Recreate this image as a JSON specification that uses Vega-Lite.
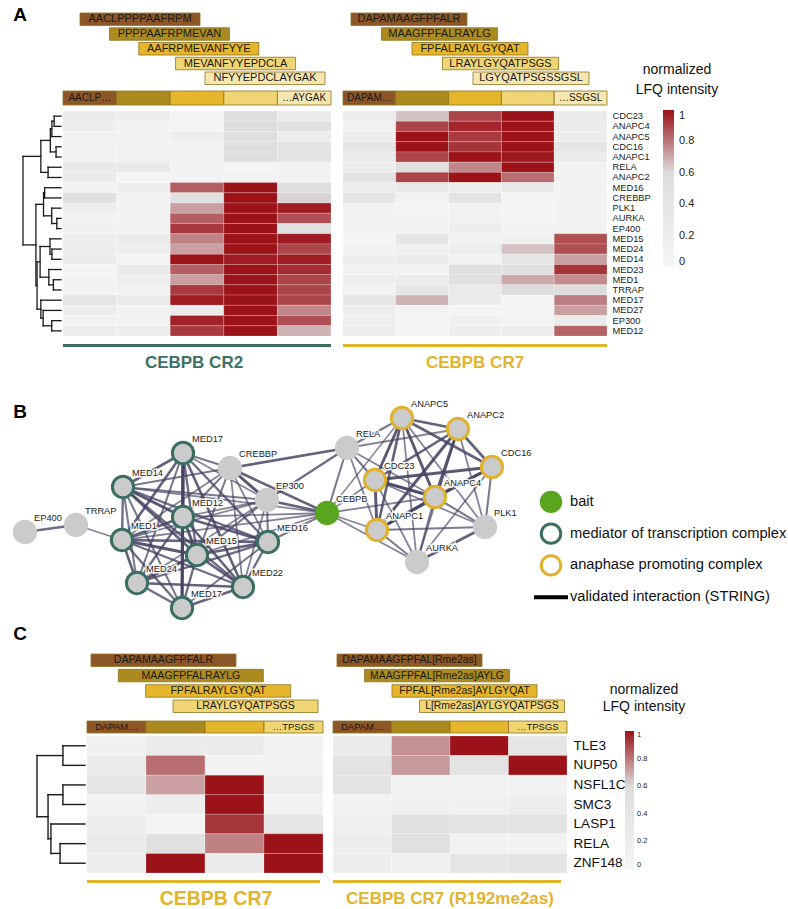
{
"$schema": "https://vega.github.io/schema/vega-lite/v6.json",
"background": "white",
"padding": 0,
"config": {"font": "Liberation Sans", "view": {"stroke": null}},
"datasets": {
"nodes": [
{"id":"EP400","label":"EP400","x":25,"y":157,"grp":"other"},
{"id":"TRRAP","label":"TRRAP","x":76,"y":150,"grp":"other"},
{"id":"MED14","label":"MED14","x":123,"y":112,"grp":"med"},
{"id":"MED17a","label":"MED17","x":183,"y":78,"grp":"med"},
{"id":"CREBBP","label":"CREBBP","x":230,"y":93,"grp":"other"},
{"id":"EP300","label":"EP300","x":267,"y":125,"grp":"other"},
{"id":"MED12","label":"MED12","x":183,"y":142,"grp":"med"},
{"id":"MED1","label":"MED1","x":122,"y":165,"grp":"med"},
{"id":"MED15","label":"MED15","x":197,"y":180,"grp":"med"},
{"id":"MED16","label":"MED16","x":268,"y":167,"grp":"med"},
{"id":"MED24","label":"MED24","x":137,"y":208,"grp":"med"},
{"id":"MED22","label":"MED22","x":243,"y":212,"grp":"med"},
{"id":"MED17b","label":"MED17","x":182,"y":233,"grp":"med"},
{"id":"CEBPB","label":"CEBPB","x":327,"y":138,"grp":"bait"},
{"id":"RELA","label":"RELA","x":347,"y":73,"grp":"other"},
{"id":"CDC23","label":"CDC23","x":375,"y":105,"grp":"apc"},
{"id":"ANAPC1","label":"ANAPC1","x":377,"y":155,"grp":"apc"},
{"id":"ANAPC5","label":"ANAPC5","x":402,"y":43,"grp":"apc"},
{"id":"ANAPC2","label":"ANAPC2","x":458,"y":54,"grp":"apc"},
{"id":"CDC16","label":"CDC16","x":492,"y":92,"grp":"apc"},
{"id":"ANAPC4","label":"ANAPC4","x":435,"y":122,"grp":"apc"},
{"id":"PLK1","label":"PLK1","x":485,"y":152,"grp":"other"},
{"id":"AURKA","label":"AURKA","x":417,"y":187,"grp":"other"}
],
"edges": [
{"s":"EP400","t":"TRRAP","w":0.7},{"s":"TRRAP","t":"MED1","w":0.5},
{"s":"MED14","t":"MED17a","w":0.8},{"s":"MED14","t":"MED12","w":0.9},{"s":"MED14","t":"MED1","w":0.7},{"s":"MED14","t":"MED15","w":0.8},{"s":"MED14","t":"MED16","w":0.7},{"s":"MED14","t":"MED24","w":0.6},{"s":"MED14","t":"MED22","w":0.7},{"s":"MED14","t":"MED17b","w":0.6},
{"s":"MED17a","t":"MED12","w":0.9},{"s":"MED17a","t":"MED1","w":0.8},{"s":"MED17a","t":"MED15","w":0.7},{"s":"MED17a","t":"MED16","w":0.7},{"s":"MED17a","t":"MED24","w":0.6},{"s":"MED17a","t":"MED22","w":0.8},{"s":"MED17a","t":"MED17b","w":1.0},
{"s":"MED12","t":"MED1","w":0.8},{"s":"MED12","t":"MED15","w":0.9},{"s":"MED12","t":"MED16","w":0.8},{"s":"MED12","t":"MED24","w":0.7},{"s":"MED12","t":"MED22","w":0.8},{"s":"MED12","t":"MED17b","w":0.7},
{"s":"MED1","t":"MED15","w":0.9},{"s":"MED1","t":"MED16","w":0.8},{"s":"MED1","t":"MED24","w":0.8},{"s":"MED1","t":"MED22","w":0.7},{"s":"MED1","t":"MED17b","w":0.7},
{"s":"MED15","t":"MED16","w":0.8},{"s":"MED15","t":"MED24","w":0.9},{"s":"MED15","t":"MED22","w":0.8},{"s":"MED15","t":"MED17b","w":0.7},
{"s":"MED16","t":"MED24","w":0.7},{"s":"MED16","t":"MED22","w":0.7},{"s":"MED16","t":"MED17b","w":0.6},
{"s":"MED24","t":"MED22","w":0.8},{"s":"MED24","t":"MED17b","w":0.7},{"s":"MED22","t":"MED17b","w":0.8},
{"s":"CREBBP","t":"MED17a","w":0.6},{"s":"CREBBP","t":"MED14","w":0.6},{"s":"CREBBP","t":"MED12","w":0.6},{"s":"CREBBP","t":"MED1","w":0.5},{"s":"CREBBP","t":"MED15","w":0.6},{"s":"CREBBP","t":"MED16","w":0.5},{"s":"CREBBP","t":"MED22","w":0.5},{"s":"CREBBP","t":"EP300","w":0.9},{"s":"CREBBP","t":"CEBPB","w":0.8},{"s":"CREBBP","t":"RELA","w":0.8},
{"s":"EP300","t":"MED14","w":0.6},{"s":"EP300","t":"MED1","w":0.5},{"s":"EP300","t":"MED15","w":0.6},{"s":"EP300","t":"MED24","w":0.5},{"s":"EP300","t":"MED16","w":0.6},{"s":"EP300","t":"MED22","w":0.5},{"s":"EP300","t":"CEBPB","w":0.8},{"s":"EP300","t":"RELA","w":0.7},{"s":"EP300","t":"MED17a","w":0.5},{"s":"EP300","t":"MED12","w":0.5},
{"s":"CEBPB","t":"MED14","w":0.5},{"s":"CEBPB","t":"MED12","w":0.5},{"s":"CEBPB","t":"MED1","w":0.5},{"s":"CEBPB","t":"MED15","w":0.5},{"s":"CEBPB","t":"MED16","w":0.6},{"s":"CEBPB","t":"RELA","w":0.6},{"s":"CEBPB","t":"CDC23","w":0.5},{"s":"CEBPB","t":"ANAPC1","w":0.5},{"s":"CEBPB","t":"ANAPC4","w":0.5},{"s":"CEBPB","t":"AURKA","w":0.5},{"s":"CEBPB","t":"ANAPC5","w":0.45},
{"s":"RELA","t":"CDC23","w":0.6},{"s":"RELA","t":"ANAPC5","w":0.6},{"s":"RELA","t":"ANAPC4","w":0.5},{"s":"RELA","t":"ANAPC2","w":0.5},{"s":"RELA","t":"ANAPC1","w":0.5},
{"s":"CDC23","t":"ANAPC1","w":0.9},{"s":"CDC23","t":"ANAPC5","w":0.9},{"s":"CDC23","t":"ANAPC2","w":0.8},{"s":"CDC23","t":"CDC16","w":0.9},{"s":"CDC23","t":"ANAPC4","w":1.0},
{"s":"ANAPC1","t":"ANAPC5","w":0.8},{"s":"ANAPC1","t":"ANAPC2","w":0.9},{"s":"ANAPC1","t":"CDC16","w":0.8},{"s":"ANAPC1","t":"ANAPC4","w":0.9},
{"s":"ANAPC5","t":"ANAPC2","w":0.8},{"s":"ANAPC5","t":"CDC16","w":0.8},{"s":"ANAPC5","t":"ANAPC4","w":0.9},
{"s":"ANAPC2","t":"CDC16","w":0.8},{"s":"ANAPC2","t":"ANAPC4","w":0.9},{"s":"CDC16","t":"ANAPC4","w":0.9},
{"s":"PLK1","t":"CDC16","w":0.6},{"s":"PLK1","t":"ANAPC4","w":0.6},{"s":"PLK1","t":"ANAPC1","w":0.6},{"s":"PLK1","t":"CDC23","w":0.5},{"s":"PLK1","t":"AURKA","w":0.8},{"s":"PLK1","t":"ANAPC5","w":0.5},{"s":"PLK1","t":"ANAPC2","w":0.5},
{"s":"AURKA","t":"ANAPC1","w":0.6},{"s":"AURKA","t":"ANAPC4","w":0.6},{"s":"AURKA","t":"CDC23","w":0.5},{"s":"AURKA","t":"CDC16","w":0.5},{"s":"AURKA","t":"ANAPC2","w":0.5},{"s":"AURKA","t":"ANAPC5","w":0.5}
],
"cr2": [
{"g":"CDC23","p":1,"v":0.25},{"g":"CDC23","p":2,"v":0.2},{"g":"CDC23","p":3,"v":0.05},{"g":"CDC23","p":4,"v":0.55},{"g":"CDC23","p":5,"v":0.25},
{"g":"ANAPC4","p":1,"v":0.2},{"g":"ANAPC4","p":2,"v":0.1},{"g":"ANAPC4","p":3,"v":0.05},{"g":"ANAPC4","p":4,"v":0.55},{"g":"ANAPC4","p":5,"v":0.5},
{"g":"ANAPC5","p":1,"v":0.1},{"g":"ANAPC5","p":2,"v":0.1},{"g":"ANAPC5","p":3,"v":0.2},{"g":"ANAPC5","p":4,"v":0.55},{"g":"ANAPC5","p":5,"v":0.2},
{"g":"CDC16","p":1,"v":0.1},{"g":"CDC16","p":2,"v":0.1},{"g":"CDC16","p":3,"v":0.1},{"g":"CDC16","p":4,"v":0.55},{"g":"CDC16","p":5,"v":0.45},
{"g":"ANAPC1","p":1,"v":0.1},{"g":"ANAPC1","p":2,"v":0.15},{"g":"ANAPC1","p":3,"v":0.1},{"g":"ANAPC1","p":4,"v":0.55},{"g":"ANAPC1","p":5,"v":0.45},
{"g":"RELA","p":1,"v":0.3},{"g":"RELA","p":2,"v":0.3},{"g":"RELA","p":3,"v":0.1},{"g":"RELA","p":4,"v":0.05},{"g":"RELA","p":5,"v":0.1},
{"g":"ANAPC2","p":1,"v":0.25},{"g":"ANAPC2","p":2,"v":0.05},{"g":"ANAPC2","p":3,"v":0.1},{"g":"ANAPC2","p":4,"v":0.1},{"g":"ANAPC2","p":5,"v":0.1},
{"g":"MED16","p":1,"v":0.1},{"g":"MED16","p":2,"v":0.2},{"g":"MED16","p":3,"v":0.85},{"g":"MED16","p":4,"v":1},{"g":"MED16","p":5,"v":0.55},
{"g":"CREBBP","p":1,"v":0.5},{"g":"CREBBP","p":2,"v":0.1},{"g":"CREBBP","p":3,"v":0.5},{"g":"CREBBP","p":4,"v":1},{"g":"CREBBP","p":5,"v":0.62},
{"g":"PLK1","p":1,"v":0.2},{"g":"PLK1","p":2,"v":0.1},{"g":"PLK1","p":3,"v":0.72},{"g":"PLK1","p":4,"v":1},{"g":"PLK1","p":5,"v":0.98},
{"g":"AURKA","p":1,"v":0.1},{"g":"AURKA","p":2,"v":0.1},{"g":"AURKA","p":3,"v":0.85},{"g":"AURKA","p":4,"v":1},{"g":"AURKA","p":5,"v":0.88},
{"g":"EP400","p":1,"v":0.15},{"g":"EP400","p":2,"v":0.1},{"g":"EP400","p":3,"v":0.92},{"g":"EP400","p":4,"v":1},{"g":"EP400","p":5,"v":0.5},
{"g":"MED15","p":1,"v":0.2},{"g":"MED15","p":2,"v":0.25},{"g":"MED15","p":3,"v":0.78},{"g":"MED15","p":4,"v":1},{"g":"MED15","p":5,"v":0.98},
{"g":"MED24","p":1,"v":0.2},{"g":"MED24","p":2,"v":0.2},{"g":"MED24","p":3,"v":0.72},{"g":"MED24","p":4,"v":1},{"g":"MED24","p":5,"v":0.9},
{"g":"MED14","p":1,"v":0.25},{"g":"MED14","p":2,"v":0.05},{"g":"MED14","p":3,"v":1},{"g":"MED14","p":4,"v":0.98},{"g":"MED14","p":5,"v":0.98},
{"g":"MED23","p":1,"v":0.05},{"g":"MED23","p":2,"v":0.3},{"g":"MED23","p":3,"v":0.85},{"g":"MED23","p":4,"v":1},{"g":"MED23","p":5,"v":0.95},
{"g":"MED1","p":1,"v":0.1},{"g":"MED1","p":2,"v":0.2},{"g":"MED1","p":3,"v":0.72},{"g":"MED1","p":4,"v":1},{"g":"MED1","p":5,"v":0.9},
{"g":"TRRAP","p":1,"v":0.1},{"g":"TRRAP","p":2,"v":0.1},{"g":"TRRAP","p":3,"v":0.92},{"g":"TRRAP","p":4,"v":1},{"g":"TRRAP","p":5,"v":0.9},
{"g":"MED17","p":1,"v":0.4},{"g":"MED17","p":2,"v":0.25},{"g":"MED17","p":3,"v":0.98},{"g":"MED17","p":4,"v":1},{"g":"MED17","p":5,"v":0.9},
{"g":"MED27","p":1,"v":0.2},{"g":"MED27","p":2,"v":0.1},{"g":"MED27","p":3,"v":0.25},{"g":"MED27","p":4,"v":1},{"g":"MED27","p":5,"v":0.77},
{"g":"EP300","p":1,"v":0.1},{"g":"EP300","p":2,"v":0.1},{"g":"EP300","p":3,"v":0.97},{"g":"EP300","p":4,"v":1},{"g":"EP300","p":5,"v":0.88},
{"g":"MED12","p":1,"v":0.2},{"g":"MED12","p":2,"v":0.2},{"g":"MED12","p":3,"v":0.92},{"g":"MED12","p":4,"v":1},{"g":"MED12","p":5,"v":0.68}
],
"cr7a": [
{"g":"CDC23","p":1,"v":0.2},{"g":"CDC23","p":2,"v":0.65},{"g":"CDC23","p":3,"v":0.9},{"g":"CDC23","p":4,"v":1},{"g":"CDC23","p":5,"v":0.25},
{"g":"ANAPC4","p":1,"v":0.1},{"g":"ANAPC4","p":2,"v":0.9},{"g":"ANAPC4","p":3,"v":0.96},{"g":"ANAPC4","p":4,"v":1},{"g":"ANAPC4","p":5,"v":0.25},
{"g":"ANAPC5","p":1,"v":0.2},{"g":"ANAPC5","p":2,"v":1},{"g":"ANAPC5","p":3,"v":0.92},{"g":"ANAPC5","p":4,"v":1},{"g":"ANAPC5","p":5,"v":0.2},
{"g":"CDC16","p":1,"v":0.4},{"g":"CDC16","p":2,"v":1},{"g":"CDC16","p":3,"v":0.93},{"g":"CDC16","p":4,"v":1},{"g":"CDC16","p":5,"v":0.4},
{"g":"ANAPC1","p":1,"v":0.25},{"g":"ANAPC1","p":2,"v":0.9},{"g":"ANAPC1","p":3,"v":1},{"g":"ANAPC1","p":4,"v":0.99},{"g":"ANAPC1","p":5,"v":0.25},
{"g":"RELA","p":1,"v":0.2},{"g":"RELA","p":2,"v":0.5},{"g":"RELA","p":3,"v":0.77},{"g":"RELA","p":4,"v":1},{"g":"RELA","p":5,"v":0.1},
{"g":"ANAPC2","p":1,"v":0.45},{"g":"ANAPC2","p":2,"v":0.9},{"g":"ANAPC2","p":3,"v":1},{"g":"ANAPC2","p":4,"v":0.82},{"g":"ANAPC2","p":5,"v":0.1},
{"g":"MED16","p":1,"v":0.2},{"g":"MED16","p":2,"v":0.3},{"g":"MED16","p":3,"v":0.2},{"g":"MED16","p":4,"v":0.3},{"g":"MED16","p":5,"v":0.1},
{"g":"CREBBP","p":1,"v":0.4},{"g":"CREBBP","p":2,"v":0.1},{"g":"CREBBP","p":3,"v":0.45},{"g":"CREBBP","p":4,"v":0.05},{"g":"CREBBP","p":5,"v":0.1},
{"g":"PLK1","p":1,"v":0.1},{"g":"PLK1","p":2,"v":0.05},{"g":"PLK1","p":3,"v":0.1},{"g":"PLK1","p":4,"v":0.05},{"g":"PLK1","p":5,"v":0.1},
{"g":"AURKA","p":1,"v":0.1},{"g":"AURKA","p":2,"v":0.1},{"g":"AURKA","p":3,"v":0.15},{"g":"AURKA","p":4,"v":0.05},{"g":"AURKA","p":5,"v":0.1},
{"g":"EP400","p":1,"v":0.1},{"g":"EP400","p":2,"v":0.1},{"g":"EP400","p":3,"v":0.2},{"g":"EP400","p":4,"v":0.1},{"g":"EP400","p":5,"v":0.1},
{"g":"MED15","p":1,"v":0.05},{"g":"MED15","p":2,"v":0.4},{"g":"MED15","p":3,"v":0.1},{"g":"MED15","p":4,"v":0.15},{"g":"MED15","p":5,"v":0.88},
{"g":"MED24","p":1,"v":0.1},{"g":"MED24","p":2,"v":0.15},{"g":"MED24","p":3,"v":0.2},{"g":"MED24","p":4,"v":0.65},{"g":"MED24","p":5,"v":0.88},
{"g":"MED14","p":1,"v":0.2},{"g":"MED14","p":2,"v":0.25},{"g":"MED14","p":3,"v":0.1},{"g":"MED14","p":4,"v":0.4},{"g":"MED14","p":5,"v":0.72},
{"g":"MED23","p":1,"v":0.1},{"g":"MED23","p":2,"v":0.1},{"g":"MED23","p":3,"v":0.5},{"g":"MED23","p":4,"v":0.5},{"g":"MED23","p":5,"v":0.93},
{"g":"MED1","p":1,"v":0.2},{"g":"MED1","p":2,"v":0.25},{"g":"MED1","p":3,"v":0.5},{"g":"MED1","p":4,"v":0.7},{"g":"MED1","p":5,"v":0.76},
{"g":"TRRAP","p":1,"v":0.1},{"g":"TRRAP","p":2,"v":0.4},{"g":"TRRAP","p":3,"v":0.3},{"g":"TRRAP","p":4,"v":0.6},{"g":"TRRAP","p":5,"v":0.58},
{"g":"MED17","p":1,"v":0.35},{"g":"MED17","p":2,"v":0.68},{"g":"MED17","p":3,"v":0.25},{"g":"MED17","p":4,"v":0.05},{"g":"MED17","p":5,"v":0.79},
{"g":"MED27","p":1,"v":0.2},{"g":"MED27","p":2,"v":0.1},{"g":"MED27","p":3,"v":0.05},{"g":"MED27","p":4,"v":0.05},{"g":"MED27","p":5,"v":0.72},
{"g":"EP300","p":1,"v":0.2},{"g":"EP300","p":2,"v":0.05},{"g":"EP300","p":3,"v":0.15},{"g":"EP300","p":4,"v":0.1},{"g":"EP300","p":5,"v":0.25},
{"g":"MED12","p":1,"v":0.2},{"g":"MED12","p":2,"v":0.05},{"g":"MED12","p":3,"v":0.2},{"g":"MED12","p":4,"v":0.2},{"g":"MED12","p":5,"v":0.84}
],
"cr7c": [
{"g":"TLE3","p":1,"v":0.15},{"g":"TLE3","p":2,"v":0.25},{"g":"TLE3","p":3,"v":0.25},{"g":"TLE3","p":4,"v":0.1},
{"g":"NUP50","p":1,"v":0.25},{"g":"NUP50","p":2,"v":0.82},{"g":"NUP50","p":3,"v":0.1},{"g":"NUP50","p":4,"v":0.1},
{"g":"NSFL1C","p":1,"v":0.4},{"g":"NSFL1C","p":2,"v":0.72},{"g":"NSFL1C","p":3,"v":1},{"g":"NSFL1C","p":4,"v":0.2},
{"g":"SMC3","p":1,"v":0.1},{"g":"SMC3","p":2,"v":0.2},{"g":"SMC3","p":3,"v":1},{"g":"SMC3","p":4,"v":0.1},
{"g":"LASP1","p":1,"v":0.2},{"g":"LASP1","p":2,"v":0.05},{"g":"LASP1","p":3,"v":0.93},{"g":"LASP1","p":4,"v":0.4},
{"g":"RELA","p":1,"v":0.25},{"g":"RELA","p":2,"v":0.5},{"g":"RELA","p":3,"v":0.78},{"g":"RELA","p":4,"v":1},
{"g":"ZNF148","p":1,"v":0.2},{"g":"ZNF148","p":2,"v":1},{"g":"ZNF148","p":3,"v":0.25},{"g":"ZNF148","p":4,"v":1}
],
"r192": [
{"g":"TLE3","p":1,"v":0.25},{"g":"TLE3","p":2,"v":0.75},{"g":"TLE3","p":3,"v":1},{"g":"TLE3","p":4,"v":0.4},
{"g":"NUP50","p":1,"v":0.45},{"g":"NUP50","p":2,"v":0.73},{"g":"NUP50","p":3,"v":0.45},{"g":"NUP50","p":4,"v":1},
{"g":"NSFL1C","p":1,"v":0.45},{"g":"NSFL1C","p":2,"v":0.1},{"g":"NSFL1C","p":3,"v":0.1},{"g":"NSFL1C","p":4,"v":0.1},
{"g":"SMC3","p":1,"v":0.1},{"g":"SMC3","p":2,"v":0.15},{"g":"SMC3","p":3,"v":0.15},{"g":"SMC3","p":4,"v":0.2},
{"g":"LASP1","p":1,"v":0.15},{"g":"LASP1","p":2,"v":0.5},{"g":"LASP1","p":3,"v":0.45},{"g":"LASP1","p":4,"v":0.45},
{"g":"RELA","p":1,"v":0.2},{"g":"RELA","p":2,"v":0.5},{"g":"RELA","p":3,"v":0.1},{"g":"RELA","p":4,"v":0.1},
{"g":"ZNF148","p":1,"v":0.2},{"g":"ZNF148","p":2,"v":0.15},{"g":"ZNF148","p":3,"v":0.4},{"g":"ZNF148","p":4,"v":0.45}
]
},
"spacing": 0,
"resolve": {"scale": {"fill": "independent", "color": "independent", "stroke": "independent", "opacity": "independent", "strokeWidth": "independent"}, "legend": {"fill": "independent", "color": "independent", "stroke": "independent", "opacity": "independent", "strokeWidth": "independent"}},
"vconcat": [
{"hconcat": [
{"vconcat": [
{"width": 40, "height": 30, "data": {"values": [{"t": "A"}]}, "mark": {"type": "text", "fontSize": 19, "fontWeight": "bold", "color": "#000000"}, "encoding": {"text": {"field": "t"}}},
{"width": 61, "height": 81, "data": {"values": []}, "mark": "point", "encoding": {}},
{"width": 61, "height": 225,
"data": {"values": [
{"h1":0.18,"h2":0.18,"p1":0,"p2":1},{"h1":0,"h2":0.18,"p1":0,"p2":0},{"h1":0,"h2":0.18,"p1":1,"p2":1},
{"h1":0.24,"h2":0.24,"p1":0.5,"p2":2},{"h1":0.18,"h2":0.24,"p1":0.5,"p2":0.5},{"h1":0,"h2":0.24,"p1":2,"p2":2},
{"h1":0.13,"h2":0.13,"p1":3,"p2":4},{"h1":0,"h2":0.13,"p1":3,"p2":3},{"h1":0,"h2":0.13,"p1":4,"p2":4},
{"h1":0.28,"h2":0.28,"p1":1.25,"p2":3.5},{"h1":0.24,"h2":0.28,"p1":1.25,"p2":1.25},{"h1":0.13,"h2":0.28,"p1":3.5,"p2":3.5},
{"h1":0.34,"h2":0.34,"p1":5,"p2":6},{"h1":0,"h2":0.34,"p1":5,"p2":5},{"h1":0,"h2":0.34,"p1":6,"p2":6},
{"h1":0.53,"h2":0.53,"p1":2.375,"p2":5.5},{"h1":0.28,"h2":0.53,"p1":2.375,"p2":2.375},{"h1":0.34,"h2":0.53,"p1":5.5,"p2":5.5},
{"h1":0.11,"h2":0.11,"p1":10,"p2":11},{"h1":0,"h2":0.11,"p1":10,"p2":10},{"h1":0,"h2":0.11,"p1":11,"p2":11},
{"h1":0.245,"h2":0.245,"p1":9,"p2":10.5},{"h1":0,"h2":0.245,"p1":9,"p2":9},{"h1":0.11,"h2":0.245,"p1":10.5,"p2":10.5},
{"h1":0.43,"h2":0.43,"p1":7,"p2":8},{"h1":0,"h2":0.43,"p1":7,"p2":7},{"h1":0,"h2":0.43,"p1":8,"p2":8},
{"h1":0.46,"h2":0.46,"p1":7.5,"p2":9.75},{"h1":0.43,"h2":0.46,"p1":7.5,"p2":7.5},{"h1":0.245,"h2":0.46,"p1":9.75,"p2":9.75},
{"h1":0.24,"h2":0.24,"p1":13,"p2":14},{"h1":0,"h2":0.24,"p1":13,"p2":13},{"h1":0,"h2":0.24,"p1":14,"p2":14},
{"h1":0.29,"h2":0.29,"p1":12,"p2":13.5},{"h1":0,"h2":0.29,"p1":12,"p2":12},{"h1":0.24,"h2":0.29,"p1":13.5,"p2":13.5},
{"h1":0.2,"h2":0.2,"p1":16,"p2":17},{"h1":0,"h2":0.2,"p1":16,"p2":16},{"h1":0,"h2":0.2,"p1":17,"p2":17},
{"h1":0.32,"h2":0.32,"p1":15,"p2":16.5},{"h1":0,"h2":0.32,"p1":15,"p2":15},{"h1":0.2,"h2":0.32,"p1":16.5,"p2":16.5},
{"h1":0.55,"h2":0.55,"p1":12.75,"p2":15.75},{"h1":0.29,"h2":0.55,"p1":12.75,"p2":12.75},{"h1":0.32,"h2":0.55,"p1":15.75,"p2":15.75},
{"h1":0.245,"h2":0.245,"p1":20,"p2":21},{"h1":0,"h2":0.245,"p1":20,"p2":20},{"h1":0,"h2":0.245,"p1":21,"p2":21},
{"h1":0.47,"h2":0.47,"p1":19,"p2":20.5},{"h1":0,"h2":0.47,"p1":19,"p2":19},{"h1":0.245,"h2":0.47,"p1":20.5,"p2":20.5},
{"h1":0.53,"h2":0.53,"p1":18,"p2":19.75},{"h1":0,"h2":0.53,"p1":18,"p2":18},{"h1":0.47,"h2":0.53,"p1":19.75,"p2":19.75},
{"h1":0.63,"h2":0.63,"p1":14.25,"p2":18.875},{"h1":0.55,"h2":0.63,"p1":14.25,"p2":14.25},{"h1":0.53,"h2":0.63,"p1":18.875,"p2":18.875},
{"h1":0.66,"h2":0.66,"p1":8.625,"p2":16.5625},{"h1":0.46,"h2":0.66,"p1":8.625,"p2":8.625},{"h1":0.63,"h2":0.66,"p1":16.5625,"p2":16.5625},
{"h1":1,"h2":1,"p1":3.9375,"p2":12.59375},{"h1":0.53,"h2":1,"p1":3.9375,"p2":3.9375},{"h1":0.66,"h2":1,"p1":12.59375,"p2":12.59375}
]},
"mark": {"type": "rule", "color": "#1a1a1a", "strokeWidth": 1.3, "strokeCap": "square"},
"encoding": {"x": {"field": "h1", "type": "quantitative", "scale": {"domain": [0, 1.605], "reverse": true, "nice": false, "zero": false}, "axis": null}, "x2": {"field": "h2"},
"y": {"field": "p1", "type": "quantitative", "scale": {"domain": [-0.5, 21.5], "reverse": true, "nice": false, "zero": false}, "axis": null}, "y2": {"field": "p2"}}}
], "spacing": 0, "bounds": "flush"},
{"vconcat": [
{"width": 268, "height": 85,
"data": {"values": [{"seg":1,"pep":"AACLPPPPAAFRPM","start":1},{"seg":2,"pep":"PPPPAAFRPMEVAN","start":5},{"seg":3,"pep":"AAFRPMEVANFYYE","start":9},{"seg":4,"pep":"MEVANFYYEPDCLA","start":14},{"seg":5,"pep":"NFYYEPDCLAYGAK","start":18}]},
"encoding": {"x": {"field": "start", "type": "quantitative", "scale": {"domain": [-9.476, 26.98], "nice": false, "zero": false}, "axis": null},
"y": {"field": "seg", "type": "ordinal", "scale": {"paddingInner": 0.15, "paddingOuter": 0.456, "align": 0.966}, "axis": null}},
"layer": [
{"mark": {"type": "rect", "width": 120, "stroke": "#8f7420", "strokeWidth": 0.8}, "encoding": {"fill": {"field": "seg", "type": "ordinal", "scale": {"domain": [1,2,3,4,5], "range": ["#8d5626","#ab8a1f","#e5b62b","#efd573","#f6e7b1"]}, "legend": null}}},
{"mark": {"type": "text", "fontSize": 11, "color": "#1a1a1a"}, "encoding": {"text": {"field": "pep"}}}
]},
{"width": 268, "height": 6, "data": {"values": []}, "mark": "point", "encoding": {}},
{"width": 268, "height": 14, "data": {"values": [{"seg":1,"lab":"AACLP…"},{"seg":2,"lab":""},{"seg":3,"lab":""},{"seg":4,"lab":""},{"seg":5,"lab":"…AYGAK"}]},
"encoding": {"x": {"field": "seg", "type": "ordinal", "scale": {"padding": 0}, "axis": null}},
"layer": [
{"mark": {"type": "rect", "stroke": "#8f7420", "strokeWidth": 0.8}, "encoding": {"fill": {"field": "seg", "type": "ordinal", "scale": {"domain": [1,2,3,4,5], "range": ["#8d5626","#ab8a1f","#e5b62b","#efd573","#f6e7b1"]}, "legend": null}}},
{"mark": {"type": "text", "fontSize": 10, "color": "#1a1a1a"}, "encoding": {"text": {"field": "lab"}}}
]},
{"width": 268, "height": 6, "data": {"values": []}, "mark": "point", "encoding": {}},
{"width": 268, "height": 225, "data": {"name": "cr2"},
"mark": {"type": "rect", "stroke": "#ffffff", "strokeWidth": 0.4, "strokeOpacity": 0.5},
"encoding": {"x": {"field": "p", "type": "ordinal", "scale": {"padding": 0}, "axis": null},
"y": {"field": "g", "type": "nominal", "scale": {"padding": 0, "domain": ["CDC23","ANAPC4","ANAPC5","CDC16","ANAPC1","RELA","ANAPC2","MED16","CREBBP","PLK1","AURKA","EP400","MED15","MED24","MED14","MED23","MED1","TRRAP","MED17","MED27","EP300","MED12"]}, "axis": null},
"color": {"field": "v", "type": "quantitative", "scale": {"domain": [0, 0.6, 1], "range": ["#f6f6f6", "#dcdcdc", "#9b1218"], "interpolate": "rgb"}, "legend": null}}},
{"width": 268, "height": 8, "data": {"values": []}, "mark": "point", "encoding": {}},
{"width": 268, "height": 3, "data": {"values": [{}]}, "mark": {"type": "rect", "color": "#3c6f64"}, "encoding": {}},
{"width": 268, "height": 4, "data": {"values": []}, "mark": "point", "encoding": {}},
{"width": 268, "height": 24, "data": {"values": [{"t": "CEBPB CR2"}]}, "mark": {"type": "text", "fontSize": 17, "fontWeight": "bold", "color": "#3e7165", "dx": -3}, "encoding": {"text": {"field": "t"}}}
], "spacing": 0, "bounds": "flush", "resolve": {"scale": {"fill": "independent", "color": "independent"}, "legend": {"fill": "independent", "color": "independent"}}},
{"width": 10, "height": 1, "data": {"values": []}, "mark": "point", "encoding": {}},
{"vconcat": [
{"width": 264, "height": 85,
"layer": [
{"data": {"values": [{"seg":1,"pep":"DAPAMAAGFPFALR","start":1},{"seg":2,"pep":"MAAGFPFALRAYLG","start":5},{"seg":3,"pep":"FPFALRAYLGYQAT","start":9},{"seg":4,"pep":"LRAYLGYQATPSGS","start":13},{"seg":5,"pep":"LGYQATPSGSSGSL","start":17}]},
"mark": {"type": "rect", "width": 116, "stroke": "#8f7420", "strokeWidth": 0.8},
"encoding": {"x": {"field": "start", "type": "quantitative", "scale": {"domain": [-7.656, 26.97], "nice": false, "zero": false}, "axis": null},
"y": {"field": "seg", "type": "ordinal", "scale": {"paddingInner": 0.15, "paddingOuter": 0.456, "align": 0.966}, "axis": null},
"fill": {"field": "seg", "type": "ordinal", "scale": {"domain": [1,2,3,4,5], "range": ["#8d5626","#ab8a1f","#e5b62b","#efd573","#f6e7b1"]}, "legend": null}}},
{"data": {"values": [{"seg":1,"pep":"DAPAMAAGFPFALR","start":1},{"seg":2,"pep":"MAAGFPFALRAYLG","start":5},{"seg":3,"pep":"FPFALRAYLGYQAT","start":9},{"seg":4,"pep":"LRAYLGYQATPSGS","start":13},{"seg":5,"pep":"LGYQATPSGSSGSL","start":17}]},
"mark": {"type": "text", "fontSize": 11, "color": "#1a1a1a"},
"encoding": {"x": {"field": "start", "type": "quantitative"}, "y": {"field": "seg", "type": "ordinal"}, "text": {"field": "pep"}}},
{"data": {"values": [{"t": "normalized\nLFQ intensity"}]},
"mark": {"type": "text", "fontSize": 14, "lineBreak": "\n", "lineHeight": 20, "color": "#111111", "dx": 202, "dy": 27},
"encoding": {"text": {"field": "t"}}}
]},
{"width": 264, "height": 6, "data": {"values": []}, "mark": "point", "encoding": {}},
{"width": 264, "height": 14, "data": {"values": [{"seg":1,"lab":"DAPAM…"},{"seg":2,"lab":""},{"seg":3,"lab":""},{"seg":4,"lab":""},{"seg":5,"lab":"…SSGSL"}]},
"encoding": {"x": {"field": "seg", "type": "ordinal", "scale": {"padding": 0}, "axis": null}},
"layer": [
{"mark": {"type": "rect", "stroke": "#8f7420", "strokeWidth": 0.8}, "encoding": {"fill": {"field": "seg", "type": "ordinal", "scale": {"domain": [1,2,3,4,5], "range": ["#8d5626","#ab8a1f","#e5b62b","#efd573","#f6e7b1"]}, "legend": null}}},
{"mark": {"type": "text", "fontSize": 10, "color": "#1a1a1a"}, "encoding": {"text": {"field": "lab"}}}
]},
{"width": 264, "height": 6, "data": {"values": []}, "mark": "point", "encoding": {}},
{"width": 264, "height": 225, "data": {"name": "cr7a"},
"mark": {"type": "rect", "stroke": "#ffffff", "strokeWidth": 0.4, "strokeOpacity": 0.5},
"encoding": {"x": {"field": "p", "type": "ordinal", "scale": {"padding": 0}, "axis": null},
"y": {"field": "g", "type": "nominal", "scale": {"padding": 0, "domain": ["CDC23","ANAPC4","ANAPC5","CDC16","ANAPC1","RELA","ANAPC2","MED16","CREBBP","PLK1","AURKA","EP400","MED15","MED24","MED14","MED23","MED1","TRRAP","MED17","MED27","EP300","MED12"]}, "axis": {"orient": "right", "domain": false, "ticks": false, "title": null, "labelPadding": 5, "labelFontSize": 9.3, "labelColor": "#1a1a1a"}},
"color": {"field": "v", "type": "quantitative", "scale": {"domain": [0, 0.6, 1], "range": ["#f6f6f6", "#dcdcdc", "#9b1218"], "interpolate": "rgb"},
"legend": {"orient": "none", "legendX": 320, "legendY": -1, "direction": "vertical", "title": null, "gradientLength": 157, "gradientThickness": 11, "values": [0, 0.2, 0.4, 0.6, 0.8, 1], "format": "~g", "labelFontSize": 11, "labelOffset": 5, "labelOverlap": false, "padding": 0, "gradientStrokeWidth": 0, "labelColor": "#1a1a1a"}}}},
{"width": 264, "height": 8, "data": {"values": []}, "mark": "point", "encoding": {}},
{"width": 264, "height": 3, "data": {"values": [{}]}, "mark": {"type": "rect", "color": "#e2b32d"}, "encoding": {}},
{"width": 264, "height": 4, "data": {"values": []}, "mark": "point", "encoding": {}},
{"width": 264, "height": 24, "data": {"values": [{"t": "CEBPB CR7"}]}, "mark": {"type": "text", "fontSize": 17, "fontWeight": "bold", "color": "#e2b32d"}, "encoding": {"text": {"field": "t"}}}
], "spacing": 0, "bounds": "flush", "resolve": {"scale": {"fill": "independent", "color": "independent"}, "legend": {"fill": "independent", "color": "independent"}}}
], "spacing": 0, "resolve": {"scale": {"fill": "independent", "color": "independent"}, "legend": {"fill": "independent", "color": "independent"}}},

{"hconcat": [
{"width": 530, "height": 250,
"layer": [
{"data": {"name": "edges"},
"transform": [
{"lookup": "s", "from": {"data": {"name": "nodes"}, "key": "id", "fields": ["x", "y"]}, "as": ["sx", "sy"]},
{"lookup": "t", "from": {"data": {"name": "nodes"}, "key": "id", "fields": ["x", "y"]}, "as": ["tx", "ty"]}
],
"mark": {"type": "rule", "color": "#444463"},
"encoding": {
"x": {"field": "sx", "type": "quantitative", "scale": {"domain": [0, 530], "nice": false, "zero": false}, "axis": null},
"y": {"field": "sy", "type": "quantitative", "scale": {"domain": [0, 250], "reverse": true, "nice": false, "zero": false}, "axis": null},
"x2": {"field": "tx"}, "y2": {"field": "ty"},
"strokeWidth": {"field": "w", "type": "quantitative", "scale": {"domain": [0.4, 1], "range": [1.5, 3.2]}, "legend": null},
"opacity": {"field": "w", "type": "quantitative", "scale": {"domain": [0.4, 1], "range": [0.6, 0.95]}, "legend": null}
}},
{"data": {"name": "nodes"},
"mark": {"type": "point", "shape": "circle", "size": 452, "strokeWidth": 3, "opacity": 1},
"encoding": {
"x": {"field": "x", "type": "quantitative"},
"y": {"field": "y", "type": "quantitative"},
"fill": {"field": "grp", "type": "nominal", "scale": {"domain": ["bait", "med", "apc", "other"], "range": ["#5aa51f", "#cbcbcb", "#cbcbcb", "#cbcbcb"]}, "legend": null},
"stroke": {"field": "grp", "type": "nominal", "scale": {"domain": ["bait", "med", "apc", "other"], "range": ["#5aa51f", "#3b6e62", "#e0b22c", "#cbcbcb"]}, "legend": null}
}},
{"data": {"name": "nodes"},
"mark": {"type": "text", "align": "left", "baseline": "middle", "dx": 9, "dy": -14, "fontSize": 9.3, "stroke": "#ffffff", "strokeWidth": 3, "strokeOpacity": 0.9, "color": "#ffffff"},
"encoding": {"x": {"field": "x", "type": "quantitative"}, "y": {"field": "y", "type": "quantitative"}, "text": {"field": "label"}}},
{"data": {"name": "nodes"},
"mark": {"type": "text", "align": "left", "baseline": "middle", "dx": 9, "dy": -14, "fontSize": 9.3, "color": "#1a1a1a"},
"encoding": {"x": {"field": "x", "type": "quantitative"}, "y": {"field": "y", "type": "quantitative"}, "text": {"field": "label"}}},
{"data": {"values": [{"t": "B"}]},
"mark": {"type": "text", "fontSize": 19, "fontWeight": "bold", "color": "#000000"},
"encoding": {"x": {"datum": 20}, "y": {"datum": 37}, "text": {"field": "t"}}}
],
"resolve": {"scale": {"fill": "independent", "stroke": "independent"}}
},
{"vconcat": [
{"width": 34, "height": 111, "data": {"values": []}, "mark": "point", "encoding": {}},
{"width": 34, "height": 127,
"data": {"values": [{"k": "bait", "t": "bait"}, {"k": "med", "t": "mediator of transcription complex"}, {"k": "apc", "t": "anaphase promoting complex"}, {"k": "line", "t": "validated interaction (STRING)"}]},
"encoding": {"y": {"field": "k", "type": "nominal", "scale": {"type": "point", "domain": ["bait", "med", "apc", "line"], "padding": 0.5}, "axis": null}},
"layer": [
{"transform": [{"filter": "datum.k != 'line'"}],
"mark": {"type": "point", "shape": "circle", "size": 380, "strokeWidth": 3, "opacity": 1},
"encoding": {
"x": {"datum": "sym", "type": "nominal", "scale": {"type": "point", "domain": ["l", "sym", "txt"], "padding": 0}, "axis": null},
"fill": {"field": "k", "type": "nominal", "scale": {"domain": ["bait", "med", "apc"], "range": ["#5aa51f", "#ffffff", "#ffffff"]}, "legend": null},
"stroke": {"field": "k", "type": "nominal", "scale": {"domain": ["bait", "med", "apc"], "range": ["#5aa51f", "#3b6e62", "#e0b22c"]}, "legend": null}
}},
{"transform": [{"filter": "datum.k == 'line'"}],
"mark": {"type": "rule", "strokeWidth": 4, "color": "#000000"},
"encoding": {"x": {"datum": "l", "type": "nominal", "scale": {"type": "point", "domain": ["l", "sym", "txt"], "padding": 0}, "axis": null}, "x2": {"datum": "txt"}}},
{"mark": {"type": "text", "align": "left", "baseline": "middle", "dx": 2, "fontSize": 14.7, "color": "#111111"},
"encoding": {"x": {"datum": "txt", "type": "nominal", "scale": {"type": "point", "domain": ["l", "sym", "txt"], "padding": 0}, "axis": null}, "text": {"field": "t"}}}
]}
], "spacing": 0, "bounds": "flush", "resolve": {"scale": {"fill": "independent", "stroke": "independent"}, "legend": {"fill": "independent", "stroke": "independent"}}}
], "spacing": 0, "resolve": {"scale": {"fill": "independent", "stroke": "independent", "color": "independent", "opacity": "independent", "strokeWidth": "independent"}, "legend": {"fill": "independent", "stroke": "independent", "color": "independent", "opacity": "independent", "strokeWidth": "independent"}}},

{"hconcat": [
{"vconcat": [
{"width": 40, "height": 10, "data": {"values": [{"t": "C"}]}, "mark": {"type": "text", "fontSize": 19, "fontWeight": "bold", "color": "#000000"}, "encoding": {"text": {"field": "t"}}},
{"width": 85, "height": 97, "data": {"values": []}, "mark": "point", "encoding": {}},
{"width": 85, "height": 137,
"data": {"values": [
{"h1":0.46,"h2":0.46,"p1":0,"p2":1},{"h1":0,"h2":0.46,"p1":0,"p2":0},{"h1":0,"h2":0.46,"p1":1,"p2":1},
{"h1":0.46,"h2":0.46,"p1":2,"p2":3},{"h1":0,"h2":0.46,"p1":2,"p2":2},{"h1":0,"h2":0.46,"p1":3,"p2":3},
{"h1":0.52,"h2":0.52,"p1":5,"p2":6},{"h1":0,"h2":0.52,"p1":5,"p2":5},{"h1":0,"h2":0.52,"p1":6,"p2":6},
{"h1":0.71,"h2":0.71,"p1":4,"p2":5.5},{"h1":0,"h2":0.71,"p1":4,"p2":4},{"h1":0.52,"h2":0.71,"p1":5.5,"p2":5.5},
{"h1":0.77,"h2":0.77,"p1":2.5,"p2":4.75},{"h1":0.46,"h2":0.77,"p1":2.5,"p2":2.5},{"h1":0.71,"h2":0.77,"p1":4.75,"p2":4.75},
{"h1":1,"h2":1,"p1":0.5,"p2":3.625},{"h1":0.46,"h2":1,"p1":0.5,"p2":0.5},{"h1":0.77,"h2":1,"p1":3.625,"p2":3.625}
]},
"mark": {"type": "rule", "color": "#1a1a1a", "strokeWidth": 1.4, "strokeCap": "square"},
"encoding": {"x": {"field": "h1", "type": "quantitative", "scale": {"domain": [0, 1.771], "reverse": true, "nice": false, "zero": false}, "axis": null}, "x2": {"field": "h2"},
"y": {"field": "p1", "type": "quantitative", "scale": {"domain": [-0.5, 6.5], "reverse": true, "nice": false, "zero": false}, "axis": null}, "y2": {"field": "p2"}}}
], "spacing": 0, "bounds": "flush"},
{"vconcat": [
{"width": 236, "height": 89,
"data": {"values": [{"seg":1,"pep":"DAPAMAAGFPFALR","start":1},{"seg":2,"pep":"MAAGFPFALRAYLG","start":5},{"seg":3,"pep":"FPFALRAYLGYQAT","start":9},{"seg":4,"pep":"LRAYLGYQATPSGS","start":13}]},
"encoding": {"x": {"field": "start", "type": "quantitative", "scale": {"domain": [-10.195, 24.34], "nice": false, "zero": false}, "axis": null},
"y": {"field": "seg", "type": "ordinal", "scale": {"paddingInner": 0.185, "paddingOuter": 0.996, "align": 0.82}, "axis": null}},
"layer": [
{"mark": {"type": "rect", "width": 145, "stroke": "#8f7420", "strokeWidth": 0.8}, "encoding": {"fill": {"field": "seg", "type": "ordinal", "scale": {"domain": [1,2,3,4], "range": ["#8d5626","#ab8a1f","#e5b62b","#efd573"]}, "legend": null}}},
{"mark": {"type": "text", "fontSize": 10.6, "color": "#1a1a1a"}, "encoding": {"text": {"field": "pep"}}}
]},
{"width": 236, "height": 3, "data": {"values": []}, "mark": "point", "encoding": {}},
{"width": 236, "height": 12, "data": {"values": [{"seg":1,"lab":"DAPAM…"},{"seg":2,"lab":""},{"seg":3,"lab":""},{"seg":4,"lab":"…TPSGS"}]},
"encoding": {"x": {"field": "seg", "type": "ordinal", "scale": {"padding": 0}, "axis": null}},
"layer": [
{"mark": {"type": "rect", "stroke": "#8f7420", "strokeWidth": 0.8}, "encoding": {"fill": {"field": "seg", "type": "ordinal", "scale": {"domain": [1,2,3,4], "range": ["#8d5626","#ab8a1f","#e5b62b","#efd573"]}, "legend": null}}},
{"mark": {"type": "text", "fontSize": 9.5, "color": "#1a1a1a"}, "encoding": {"text": {"field": "lab"}}}
]},
{"width": 236, "height": 3, "data": {"values": []}, "mark": "point", "encoding": {}},
{"width": 236, "height": 137, "data": {"name": "cr7c"},
"mark": {"type": "rect", "stroke": "#ffffff", "strokeWidth": 0.4, "strokeOpacity": 0.5},
"encoding": {"x": {"field": "p", "type": "ordinal", "scale": {"padding": 0}, "axis": null},
"y": {"field": "g", "type": "nominal", "scale": {"padding": 0, "domain": ["TLE3","NUP50","NSFL1C","SMC3","LASP1","RELA","ZNF148"]}, "axis": null},
"color": {"field": "v", "type": "quantitative", "scale": {"domain": [0, 0.6, 1], "range": ["#f6f6f6", "#dcdcdc", "#9b1218"], "interpolate": "rgb"}, "legend": null}}},
{"width": 236, "height": 7, "data": {"values": []}, "mark": "point", "encoding": {}},
{"width": 233, "height": 3, "data": {"values": [{}]}, "mark": {"type": "rect", "color": "#e2b32d"}, "encoding": {}},
{"width": 236, "height": 4, "data": {"values": []}, "mark": "point", "encoding": {}},
{"width": 236, "height": 24, "data": {"values": [{"t": "CEBPB CR7"}]}, "mark": {"type": "text", "fontSize": 19.5, "fontWeight": "bold", "color": "#e2b32d", "dx": 11}, "encoding": {"text": {"field": "t"}}}
], "spacing": 0, "bounds": "flush", "resolve": {"scale": {"fill": "independent", "color": "independent"}, "legend": {"fill": "independent", "color": "independent"}}},
{"width": 8, "height": 1, "data": {"values": []}, "mark": "point", "encoding": {}},
{"vconcat": [
{"width": 234, "height": 89,
"layer": [
{"data": {"values": [{"seg":1,"pep":"DAPAMAAGFPFAL[Rme2as]","start":1},{"seg":2,"pep":"MAAGFPFAL[Rme2as]AYLG","start":5},{"seg":3,"pep":"FPFAL[Rme2as]AYLGYQAT","start":9},{"seg":4,"pep":"L[Rme2as]AYLGYQATPSGS","start":13}]},
"mark": {"type": "rect", "width": 145, "stroke": "#8f7420", "strokeWidth": 0.8},
"encoding": {"x": {"field": "start", "type": "quantitative", "scale": {"domain": [-10.127, 23.91], "nice": false, "zero": false}, "axis": null},
"y": {"field": "seg", "type": "ordinal", "scale": {"paddingInner": 0.185, "paddingOuter": 0.996, "align": 0.82}, "axis": null},
"fill": {"field": "seg", "type": "ordinal", "scale": {"domain": [1,2,3,4], "range": ["#8d5626","#ab8a1f","#e5b62b","#efd573"]}, "legend": null}}},
{"data": {"values": [{"seg":1,"pep":"DAPAMAAGFPFAL[Rme2as]","start":1},{"seg":2,"pep":"MAAGFPFAL[Rme2as]AYLG","start":5},{"seg":3,"pep":"FPFAL[Rme2as]AYLGYQAT","start":9},{"seg":4,"pep":"L[Rme2as]AYLGYQATPSGS","start":13}]},
"mark": {"type": "text", "fontSize": 10.4, "color": "#1a1a1a"},
"encoding": {"x": {"field": "start", "type": "quantitative"}, "y": {"field": "seg", "type": "ordinal"}, "text": {"field": "pep"}}},
{"data": {"values": [{"t": "normalized\nLFQ intensity"}]},
"mark": {"type": "text", "fontSize": 14, "lineBreak": "\n", "lineHeight": 16.5, "color": "#111111", "dx": 194, "dy": 16.5},
"encoding": {"text": {"field": "t"}}}
]},
{"width": 234, "height": 3, "data": {"values": []}, "mark": "point", "encoding": {}},
{"width": 234, "height": 12, "data": {"values": [{"seg":1,"lab":"DAPAM…"},{"seg":2,"lab":""},{"seg":3,"lab":""},{"seg":4,"lab":"…TPSGS"}]},
"encoding": {"x": {"field": "seg", "type": "ordinal", "scale": {"padding": 0}, "axis": null}},
"layer": [
{"mark": {"type": "rect", "stroke": "#8f7420", "strokeWidth": 0.8}, "encoding": {"fill": {"field": "seg", "type": "ordinal", "scale": {"domain": [1,2,3,4], "range": ["#8d5626","#ab8a1f","#e5b62b","#efd573"]}, "legend": null}}},
{"mark": {"type": "text", "fontSize": 9.5, "color": "#1a1a1a"}, "encoding": {"text": {"field": "lab"}}}
]},
{"width": 234, "height": 3, "data": {"values": []}, "mark": "point", "encoding": {}},
{"width": 234, "height": 137, "data": {"name": "r192"},
"mark": {"type": "rect", "stroke": "#ffffff", "strokeWidth": 0.4, "strokeOpacity": 0.5},
"encoding": {"x": {"field": "p", "type": "ordinal", "scale": {"padding": 0}, "axis": null},
"y": {"field": "g", "type": "nominal", "scale": {"padding": 0, "domain": ["TLE3","NUP50","NSFL1C","SMC3","LASP1","RELA","ZNF148"]}, "axis": {"orient": "right", "domain": false, "ticks": false, "title": null, "labelPadding": 6, "labelFontSize": 13.6, "labelColor": "#111111"}},
"color": {"field": "v", "type": "quantitative", "scale": {"domain": [0, 0.6, 1], "range": ["#f6f6f6", "#dcdcdc", "#9b1218"], "interpolate": "rgb"},
"legend": {"orient": "none", "legendX": 292, "legendY": -5, "direction": "vertical", "title": null, "gradientLength": 138, "gradientThickness": 9, "values": [0, 0.2, 0.4, 0.6, 0.8, 1], "format": "~g", "labelFontSize": 7.5, "labelOffset": 3, "labelOverlap": false, "padding": 0, "gradientStrokeWidth": 0, "labelColor": "#1a1a1a"}}}},
{"width": 234, "height": 7, "data": {"values": []}, "mark": "point", "encoding": {}},
{"width": 228, "height": 3, "data": {"values": [{}]}, "mark": {"type": "rect", "color": "#e2b32d"}, "encoding": {}},
{"width": 234, "height": 4, "data": {"values": []}, "mark": "point", "encoding": {}},
{"width": 234, "height": 24, "data": {"values": [{"t": "CEBPB CR7 (R192me2as)"}]}, "mark": {"type": "text", "fontSize": 17, "fontWeight": "bold", "color": "#e2b32d"}, "encoding": {"text": {"field": "t"}}}
], "spacing": 0, "bounds": "flush", "resolve": {"scale": {"fill": "independent", "color": "independent"}, "legend": {"fill": "independent", "color": "independent"}}}
], "spacing": 0, "resolve": {"scale": {"fill": "independent", "color": "independent"}, "legend": {"fill": "independent", "color": "independent"}}}
]
}
